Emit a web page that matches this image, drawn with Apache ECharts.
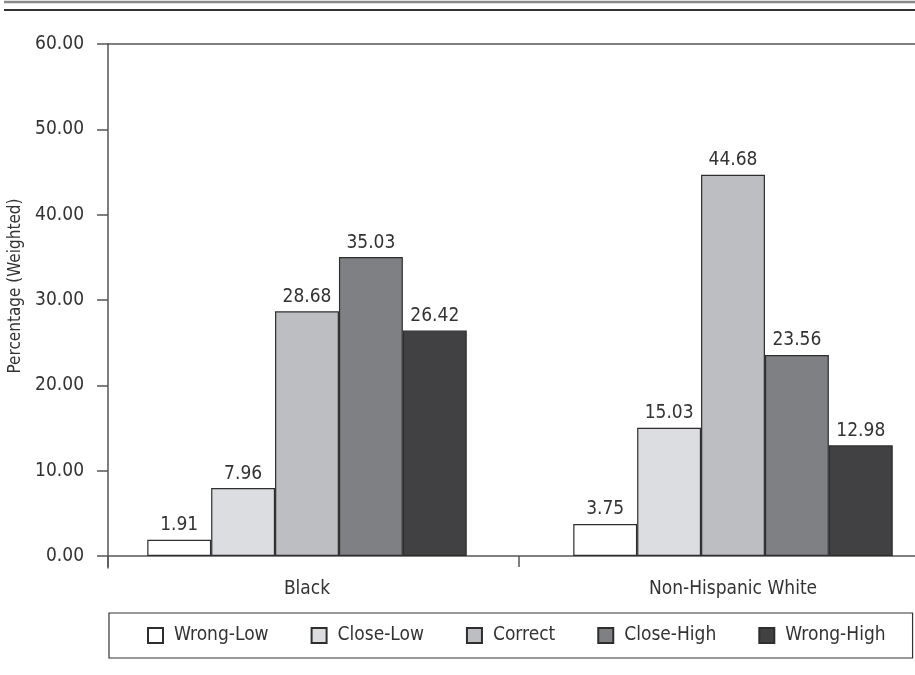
<!DOCTYPE html>
<html>
<head>
<meta charset="utf-8">
<style>
  html, body { margin: 0; padding: 0; background: #fff; }
  #chart { width: 915px; height: 675px; }
</style>
<script src="https://cdn.jsdelivr.net/npm/echarts@6/dist/echarts.min.js"></script>
</head>
<body>
<div id="chart"></div>
<script>
// Groups on the category axis
const categories = ['Black', 'Non-Hispanic White'];

// Response classes, one bar series each
const seriesNames = ['Wrong-Low', 'Close-Low', 'Correct', 'Close-High', 'Wrong-High'];

// Weighted percentages per class, ordered as in categories
const wrongLow  = [1.91, 3.75];
const closeLow  = [7.96, 15.03];
const correct   = [28.68, 44.68];
const closeHigh = [35.03, 23.56];
const wrongHigh = [26.42, 12.98];

// Y axis tick values
const yTicks = [0, 10, 20, 30, 40, 50, 60];

const values = [wrongLow, closeLow, correct, closeHigh, wrongHigh];
const fills = ['#ffffff', '#dcdde0', '#bdbec1', '#7f8083', '#414143'];

const FONT = '"Liberation Sans Narrow", "DejaVu Sans Condensed", "Roboto", sans-serif';
const TEXT = '#333333';
const AXIS = '#555555';
const Y_MIN = -1.4;   // lets the vertical axis run a little below zero
const Y_MAX = 60;

const chart = echarts.init(document.getElementById('chart'), null, { renderer: 'canvas' });

const option = {
  animation: false,
  backgroundColor: '#ffffff',
  textStyle: { fontFamily: FONT, color: TEXT },
  graphic: [
    // double rule across the top of the figure
    { type: 'line', shape: { x1: 4, y1: 2, x2: 915, y2: 2 }, style: { stroke: '#8a8a8a', lineWidth: 2.5 } },
    { type: 'line', shape: { x1: 4, y1: 10, x2: 915, y2: 10 }, style: { stroke: '#333333', lineWidth: 2 } }
  ],
  grid: [
    // grid 0: bars and category labels; the plot runs past the right edge
    { left: 94, width: 852, top: 44, bottom: 107, containLabel: false, outerBoundsMode: 'none' },
    // grid 1: axis frame, ticks and value labels
    { left: 108, width: 822, top: 44, bottom: 107, containLabel: false, outerBoundsMode: 'none' }
  ],
  legend: {
    data: seriesNames,
    left: 109,
    top: 613,
    orient: 'horizontal',
    itemWidth: 15,
    itemHeight: 15,
    itemGap: 42,
    padding: [13, 27, 13, 38],
    borderColor: '#333333',
    borderWidth: 1.2,
    borderRadius: 0,
    icon: 'rect',
    textStyle: { fontFamily: FONT, fontSize: 19, color: TEXT, padding: [0, 0, 0, 6] }
  },
  xAxis: [
    {
      gridIndex: 0,
      type: 'category',
      data: categories,
      axisLine: { show: false, onZero: true },
      axisTick: { show: false },
      axisLabel: { margin: 12, fontFamily: FONT, fontSize: 19, color: TEXT },
      splitLine: { show: false }
    },
    {
      gridIndex: 1,
      type: 'category',
      data: categories,
      axisLine: { show: true, onZero: true, lineStyle: { color: AXIS, width: 1.5 } },
      axisTick: { show: true, interval: 0, length: 11, lineStyle: { color: AXIS, width: 1.5 } },
      axisLabel: { show: false },
      splitLine: { show: false }
    },
    {
      // frame line along the top of the plot
      gridIndex: 1,
      type: 'category',
      data: categories,
      position: 'top',
      axisLine: { show: true, onZero: false, lineStyle: { color: AXIS, width: 1.5 } },
      axisTick: { show: false },
      axisLabel: { show: false },
      splitLine: { show: false }
    }
  ],
  yAxis: [
    {
      gridIndex: 0,
      type: 'value',
      min: Y_MIN,
      max: Y_MAX,
      show: false,
      splitLine: { show: false }
    },
    {
      gridIndex: 1,
      type: 'value',
      min: Y_MIN,
      max: Y_MAX,
      name: 'Percentage (Weighted)',
      nameLocation: 'middle',
      nameGap: 70,
      nameRotate: 90,
      nameTextStyle: { fontFamily: FONT, fontSize: 17, color: TEXT, padding: [0, 0, 0, 40] },
      axisLine: { show: true, onZero: false, lineStyle: { color: AXIS, width: 1.5 } },
      axisTick: { show: true, inside: false, length: 11, customValues: yTicks, lineStyle: { color: AXIS, width: 1.5 } },
      axisLabel: {
        customValues: yTicks,
        margin: 24,
        fontFamily: FONT,
        fontSize: 19,
        color: TEXT,
        formatter: function (v) { return v.toFixed(2); }
      },
      splitLine: { show: false }
    }
  ],
  series: seriesNames.map(function (name, i) {
    return {
      name: name,
      type: 'bar',
      xAxisIndex: 0,
      yAxisIndex: 0,
      data: values[i],
      barGap: '0%',
      barCategoryGap: '25%',
      itemStyle: { color: fills[i], borderColor: '#2e2e2e', borderWidth: 1.2 },
      label: {
        show: true,
        position: 'top',
        distance: 5,
        fontFamily: FONT,
        fontSize: 19,
        color: TEXT,
        formatter: function (p) { return p.value.toFixed(2); }
      }
    };
  })
};

chart.setOption(option);
</script>
</body>
</html>
